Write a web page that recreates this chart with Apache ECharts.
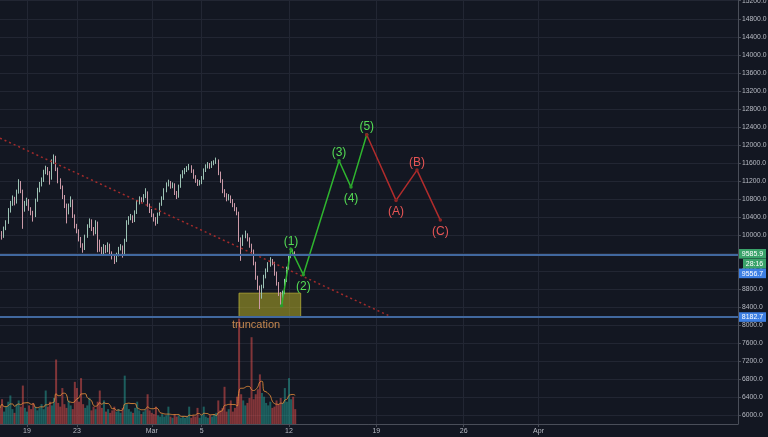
<!DOCTYPE html>
<html><head><meta charset="utf-8">
<script src="https://cdn.jsdelivr.net/npm/echarts@6/dist/echarts.min.js"></script>
<style>html,body{margin:0;padding:0;background:#131722;}#c{width:768px;height:437px;}</style>
</head><body><div id="c"></div>
<script>
// ---- axis ticks (x in days since 19 Feb 2018) ----
const xTickDays = [0, 4, 10, 14, 21, 28, 35, 41];
const xTickLabels = ['19', '23', 'Mar', '5', '12', '19', '26', 'Apr'];
const yTickValues = [6000, 6400, 6800, 7200, 7600, 8000, 8400, 8800, 9200, 9600, 10000, 10400, 10800,
  11200, 11600, 12000, 12400, 12800, 13200, 13600, 14000, 14400, 14800, 15200];
const xMinDay = -2.164, xMaxDay = 56.99;
const yMinPrice = 5810, yMaxPrice = 15216;

// ---- 4h candles starting 16 Feb 20:00 ----
const candleStartDay = -13 / 6, candleStepDay = 1 / 6;
const opens = [10120,10051,9962,10140,10274,10541,10697,10808,10719,10942,11164,10986,10585,10697,10764,10585,10496,10430,10764,10986,
 11120,11209,11387,11476,11387,11253,11609,11721,11476,11209,11075,10853,10652,10496,10652,10764,10430,10207,10096,9918,
 9784,9695,9962,10185,10318,10140,10051,10274,9873,9695,9606,9740,9651,9784,9606,9517,9428,9562,9695,9740,
 9562,9873,10274,10363,10407,10318,10496,10719,10808,10764,10853,10942,10674,10541,10452,10363,10274,10452,10674,10808,
 10986,11120,11164,11075,11120,10942,10853,11075,11298,11387,11431,11476,11520,11431,11298,11209,11142,11164,11253,11431,
 11520,11565,11520,11587,11609,11654,11387,11209,10986,10897,10808,10853,10764,10674,10585,10496,9918,9784,9962,10007,
 9918,9784,9651,9384,9072,8849,8627,8849,9072,9205,9339,9428,9384,9161,8938,8716,8537,8716,8983,9250,
 9517,9651,9606];
const closes = [10051,9962,10140,10274,10541,10697,10808,10719,10942,11164,10986,10585,10697,10764,10585,10496,10430,10764,10986,11120,
 11209,11387,11476,11387,11253,11609,11721,11476,11209,11075,10853,10652,10496,10652,10764,10430,10207,10096,9918,9784,
 9695,9962,10185,10318,10140,10051,10274,9873,9695,9606,9740,9651,9784,9606,9517,9428,9562,9695,9740,9562,
 9873,10274,10363,10407,10318,10496,10719,10808,10764,10853,10942,10674,10541,10452,10363,10274,10452,10674,10808,10986,
 11120,11164,11075,11120,10942,10853,11075,11298,11387,11431,11476,11520,11431,11298,11209,11142,11164,11253,11431,11520,
 11565,11520,11587,11609,11654,11387,11209,10986,10897,10808,10853,10764,10674,10585,10496,9918,9784,9962,10007,9918,
 9784,9651,9384,9072,8849,8627,8849,9072,9205,9339,9428,9384,9161,8938,8716,8537,8716,8983,9250,9517,
 9651,9606,9585.9];
const highs = [10180,10090,10190,10330,10600,10760,10880,10850,11010,11240,11200,11010,10760,10830,10800,10620,10540,10810,11050,11180,
 11280,11450,11540,11510,11420,11680,11790,11760,11500,11260,11100,10890,10700,10700,10860,10790,10460,10250,10130,9960,
 9820,10010,10240,10370,10350,10180,10330,10300,9900,9740,9800,9780,9840,9810,9640,9560,9610,9740,9800,9770,
 9920,10330,10420,10470,10440,10550,10780,10860,10840,10910,11040,10970,10700,10580,10480,10400,10500,10720,10860,11040,
 11170,11230,11200,11170,11150,10980,11120,11350,11440,11490,11530,11580,11550,11460,11330,11240,11220,11310,11480,11570,
 11620,11600,11640,11660,11720,11680,11410,11240,11020,10930,10910,10880,10800,10710,10620,10520,9950,10010,10100,10040,
 9950,9810,9680,9410,9100,8880,8900,9120,9260,9400,9510,9470,9410,9190,8960,8740,8770,9030,9300,9570,
 9720,9690,9640];
const lows = [9990,9900,9940,10110,10250,10500,10650,10660,10700,10920,10930,10140,10520,10650,10540,10440,10300,10400,10740,10950,
 11080,11180,11350,11330,11120,11230,11580,11420,11150,11020,10800,10600,10260,10460,10620,10380,10150,10040,9860,9720,
 9610,9670,9940,10160,10090,9990,10020,9620,9630,9550,9580,9600,9620,9560,9460,9360,9400,9530,9660,9500,
 9540,9850,10230,10330,10270,10290,10470,10680,10710,10730,10820,10630,10490,10400,10300,10210,10250,10430,10650,10780,
 10950,11080,11030,11040,10890,10800,10830,11050,11260,11350,11400,11440,11380,11250,11160,11090,11100,11130,11230,11400,
 11480,11470,11490,11550,11580,11330,11160,10930,10840,10750,10770,10710,10620,10530,10440,9850,9430,9760,9930,9860,
 9720,9590,9330,9010,8780,8360,8590,8820,9040,9180,9300,9330,9100,8880,8650,8440,8510,8690,8960,9230,
 9490,9560,9540];
const volumes = [12,20,10,14,18,23,12,9,16,19,14,31,13,10,15,12,17,14,11,13,
 16,12,27,14,18,15,21,52,17,14,29,16,13,19,15,12,34,29,18,37,
 16,13,15,21,11,14,12,18,27,13,19,10,12,9,11,14,10,12,9,13,
 39,16,12,10,9,13,18,11,8,10,12,24,11,9,8,14,7,6,8,6,
 7,14,6,5,8,6,7,5,6,5,6,14,5,7,6,13,5,7,14,6,
 5,7,6,8,9,19,11,13,30,10,12,19,10,13,22,85,24,19,15,17,
 21,70,20,24,28,40,25,22,17,15,18,13,14,19,16,21,17,29,18,37,
 20,22,12];

// ---- drawings ----
const waveImpulseDays = [20.41, 21.16, 22.15, 25.01, 25.97, 27.23];
const waveImpulsePrices = [8434, 9689, 9122, 11650, 11065, 12227];
const waveImpulseLabels = ['', '(1)', '(2)', '(3)', '(4)', '(5)'];
const waveCorrDays = [27.23, 29.58, 31.26, 33.13];
const waveCorrPrices = [12227, 10770, 11442, 10333];
const waveCorrLabels = ['', '(A)', '(B)', '(C)'];
const trendDays = [-2.164, 28.96];
const trendPrices = [12152, 8219];
const boxDays = [16.99, 21.94];
const boxPrices = [8713, 8182.7];
const hLinePrices = [9575, 8182.7];
const noteDay = 18.36, notePrice = 7997, noteText = 'truncation';
const lastPrice = 9585.9, countdownText = '28:16', alertPrice = 9556.7, supportPrice = 8182.7;

const FONT = '"Liberation Sans", Arial, sans-serif';
const chart = echarts.init(document.getElementById('c'));

const candleData = closes.map((c, i) => [candleStartDay + i * candleStepDay, opens[i], c, lows[i], highs[i]]);
const volData = volumes.map((v, i) => ({
  value: [candleStartDay + i * candleStepDay, v],
  itemStyle: { color: closes[i] >= opens[i] ? 'rgba(38,166,154,0.5)' : 'rgba(239,83,80,0.5)' }
}));
const maPeriod = 6;
const maData = volumes.map((v, i) => {
  const s = volumes.slice(Math.max(0, i - maPeriod + 1), i + 1);
  return [candleStartDay + i * candleStepDay, s.reduce((a, b) => a + b, 0) / s.length];
});

function waveData(days, prices, labels, color) {
  return days.map((d, i) => {
    const up = i > 0 ? prices[i] > prices[i - 1] : prices[i] > prices[i + 1];
    return {
      value: [d, prices[i]],
      label: {
        show: !!labels[i], formatter: labels[i], position: up ? 'top' : 'bottom',
        distance: up ? 0 : 4, color: color, fontSize: 12, fontFamily: FONT
      }
    };
  });
}

const gridLineColor = '#222633';
const axisColor = '#4a4e59';
const labelColor = '#b8bbc4';

chart.setOption({
  backgroundColor: '#131722',
  animation: false,
  grid: [
    { left: 0, right: 30, top: 0, bottom: 13, containLabel: false, outerBoundsMode: 'none' },
    { left: 0, right: 30, top: 300, bottom: 13, containLabel: false, outerBoundsMode: 'none' }
  ],
  xAxis: [
    {
      type: 'value', gridIndex: 0, min: xMinDay, max: xMaxDay,
      axisLine: { show: true, onZero: false, lineStyle: { color: axisColor } },
      axisTick: { show: true, customValues: xTickDays, length: 3, lineStyle: { color: axisColor } },
      axisLabel: {
        customValues: xTickDays, color: labelColor, fontSize: 7, fontFamily: FONT, margin: 4,
        formatter: v => xTickLabels[xTickDays.indexOf(v)]
      },
      splitLine: { show: true, lineStyle: { color: gridLineColor } }
    },
    { type: 'value', gridIndex: 1, min: xMinDay, max: xMaxDay, show: false }
  ],
  yAxis: [
    {
      type: 'value', gridIndex: 0, position: 'right', min: yMinPrice, max: yMaxPrice,
      axisLine: { show: true, onZero: false, lineStyle: { color: axisColor } },
      axisTick: { show: true, customValues: yTickValues, length: 3, lineStyle: { color: axisColor } },
      axisLabel: {
        customValues: yTickValues, color: labelColor, fontSize: 6.8, fontFamily: FONT, margin: 4,
        formatter: v => v.toFixed(1)
      },
      splitLine: { show: true, lineStyle: { color: gridLineColor } }
    },
    { type: 'value', gridIndex: 1, min: 0, max: 100, show: false }
  ],
  series: [
    {
      type: 'bar', xAxisIndex: 1, yAxisIndex: 1, data: volData, barWidth: 2, silent: true
    },
    {
      type: 'line', xAxisIndex: 1, yAxisIndex: 1, data: maData, smooth: true, showSymbol: false,
      lineStyle: { color: 'rgba(235,145,60,0.85)', width: 1 }, silent: true
    },
    {
      type: 'candlestick', xAxisIndex: 0, yAxisIndex: 0, data: candleData, barWidth: 1.3,
      itemStyle: {
        color: '#9cc2b4', color0: '#cc9aa8', borderColor: '#9cc2b4', borderColor0: '#cc9aa8', borderWidth: 1
      },
      markLine: {
        silent: true, symbol: ['none', 'none'], label: { show: false },
        lineStyle: { color: '#41689f', width: 2, type: 'solid' },
        data: hLinePrices.map(p => ({ yAxis: p }))
      },
      markArea: {
        silent: true,
        itemStyle: { color: 'rgba(205,195,40,0.48)', borderColor: 'rgba(215,205,60,0.6)', borderWidth: 1 },
        data: [[{ coord: [boxDays[0], boxPrices[0]] }, { coord: [boxDays[1], boxPrices[1]] }]]
      }
    },
    {
      type: 'line', xAxisIndex: 0, yAxisIndex: 0, showSymbol: false, silent: true,
      data: trendDays.map((d, i) => [d, trendPrices[i]]),
      lineStyle: { color: '#a32b2b', width: 1.5, type: [2, 3] }
    },
    {
      type: 'line', xAxisIndex: 0, yAxisIndex: 0, silent: true,
      data: waveData(waveImpulseDays, waveImpulsePrices, waveImpulseLabels, '#55dd55'),
      symbol: 'circle', symbolSize: 3.5, itemStyle: { color: '#2a9a2a' },
      lineStyle: { color: '#2fb52f', width: 1.5 }
    },
    {
      type: 'line', xAxisIndex: 0, yAxisIndex: 0, silent: true,
      data: waveData(waveCorrDays, waveCorrPrices, waveCorrLabels, '#e85555'),
      symbol: 'circle', symbolSize: 3.5, itemStyle: { color: '#8f2424' },
      lineStyle: { color: '#b02c2c', width: 1.5 }
    },
    {
      type: 'scatter', xAxisIndex: 0, yAxisIndex: 0, silent: true,
      data: [[noteDay, notePrice]], symbolSize: 1, itemStyle: { color: 'rgba(0,0,0,0)' },
      label: { show: true, position: 'inside', formatter: noteText, color: '#f0a35a', fontSize: 11, fontFamily: FONT }
    }
  ]
});

// price tags on the right axis
const axisX = chart.convertToPixel({ xAxisIndex: 0 }, xMaxDay);
const yOf = v => chart.convertToPixel({ yAxisIndex: 0 }, v);
const tagH = 9.6, tagRight = 766;
const y0 = yOf(lastPrice);
const tags = [
  { text: lastPrice.toFixed(1), cy: y0, bg: '#3aa36a', left: axisX + 1 },
  { text: countdownText, cy: y0 + tagH + 0.4, bg: '#3aa36a', left: axisX + 5 },
  { text: alertPrice.toFixed(1), cy: y0 + 2 * (tagH + 0.2), bg: '#3d7fe3', left: axisX + 1 },
  { text: supportPrice.toFixed(1), cy: yOf(supportPrice), bg: '#3d7fe3', left: axisX + 1 }
];
const els = [];
tags.forEach(t => {
  els.push({ type: 'rect', z: 100, shape: { x: t.left, y: t.cy - tagH / 2, width: tagRight - t.left, height: tagH }, style: { fill: t.bg } });
  els.push({ type: 'text', z: 101, style: { text: t.text, x: (t.left + tagRight) / 2, y: t.cy + 0.5, fill: '#ffffff', font: '7px ' + FONT, align: 'center', verticalAlign: 'middle' } });
});
chart.setOption({ graphic: els });
</script>
</body></html>
